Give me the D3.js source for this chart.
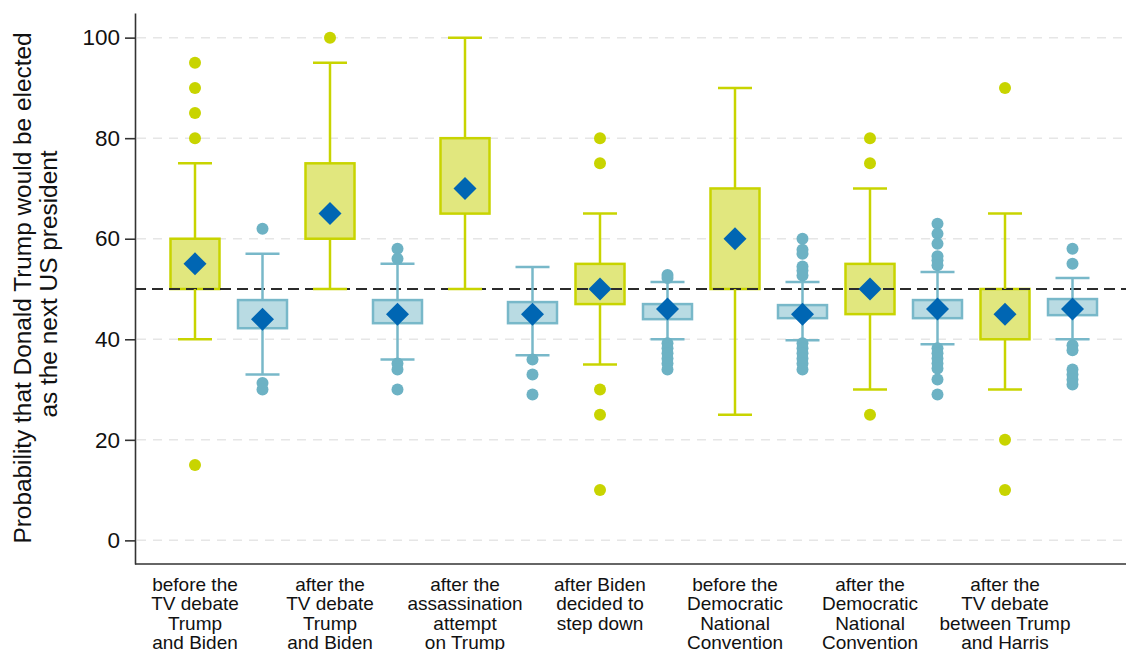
<!DOCTYPE html>
<html><head><meta charset="utf-8">
<script src="https://cdn.jsdelivr.net/npm/d3@7"></script>
<style>
body{margin:0;background:#fff}
svg{display:block;font-family:"Liberation Sans",Arial,Helvetica,sans-serif}
</style>
</head><body>
<svg id="chart" width="1126" height="650"></svg>
<script>
// ---- DATA ----
const categories = [
  "before the\nTV debate\nTrump\nand Biden",
  "after the\nTV debate\nTrump\nand Biden",
  "after the\nassassination\nattempt\non Trump",
  "after Biden\ndecided to\nstep down",
  "before the\nDemocratic\nNational\nConvention",
  "after the\nDemocratic\nNational\nConvention",
  "after the\nTV debate\nbetween Trump\nand Harris"
];
const yTicks = [0, 20, 40, 60, 80, 100];
const referenceValue = 50;

// Series A (green boxes)
const greenQ1   = [50, 60, 65, 47, 50, 45, 40];
const greenQ3   = [60, 75, 80, 55, 70, 55, 50];
const greenLo   = [40, 50, 50, 35, 25, 30, 30];
const greenHi   = [75, 95, 100, 65, 90, 70, 65];
const greenMean = [55, 65, 70, 50, 60, 50, 45];
const greenOut  = [[95, 90, 85, 80, 15], [100], [], [80, 75, 30, 25, 10], [], [80, 75, 25], [90, 20, 10]];

// Series B (blue boxes)
const blueQ1   = [42.2, 43.2, 43.2, 44.0, 44.2, 44.2, 44.8];
const blueQ3   = [47.8, 47.8, 47.4, 47.0, 46.8, 47.8, 48.0];
const blueLo   = [33, 36, 36.8, 40, 39.8, 39, 40];
const blueHi   = [57, 55, 54.4, 51.4, 51.4, 53.4, 52.2];
const blueMean = [44, 45, 45, 46, 45, 46, 46];
const blueOut  = [
  [62, 31.3, 30],
  [58, 56, 35.2, 34, 30],
  [36, 33, 29],
  [52.8, 52.2, 39.2, 38.2, 37.2, 36.2, 35.2, 34],
  [60, 57.8, 57, 54.5, 53.7, 52.7, 39.2, 38.2, 37.2, 36.2, 35.2, 34],
  [63, 61, 59, 56.5, 55.7, 54.7, 38.2, 37.2, 36.2, 35.2, 34.2, 32, 29],
  [58, 55, 38.8, 37.8, 34, 33, 32, 31]
];

// ---- BUILD ----
const boxes = [];
categories.forEach((c, i) => {
  boxes.push({key: i + "-A", s: "A", q1: greenQ1[i], q3: greenQ3[i], lo: greenLo[i], hi: greenHi[i], mean: greenMean[i], out: greenOut[i]});
  boxes.push({key: i + "-B", s: "B", q1: blueQ1[i], q3: blueQ3[i], lo: blueLo[i], hi: blueHi[i], mean: blueMean[i], out: blueOut[i]});
});

const style = {
  A: {stroke: "#c8d400", fill: "#e1e77e", dot: "#c8d400"},
  B: {stroke: "#78b8c9", fill: "#b9dbe3", dot: "#6db2c4"}
};

const svg = d3.select("#chart");
const x = d3.scalePoint().domain(boxes.map(d => d.key)).range([195, 1072.5]);
const y = d3.scaleLinear().domain([-4.7, 104.9]).range([564, 13]);
const left = 135, right = 1126;
const boxW = 49, capW = 34;

// gridlines
svg.append("g").selectAll("line").data(yTicks).join("line")
  .attr("x1", left + 2).attr("x2", right)
  .attr("y1", d => y(d)).attr("y2", d => y(d))
  .attr("stroke", "#e6e6e6").attr("stroke-width", 1.5).attr("stroke-dasharray", "9,7");

// y axis
const yAxis = svg.append("g").attr("transform", `translate(${left},0)`)
  .call(d3.axisLeft(y).tickValues(yTicks).tickSize(10).tickSizeOuter(0).tickPadding(5));
yAxis.select(".domain").attr("stroke", "#333").attr("stroke-width", 1.6);
yAxis.selectAll(".tick line").attr("stroke", "#333").attr("stroke-width", 1.6);
yAxis.selectAll(".tick text").attr("font-size", 22.5).attr("fill", "#111")
  .attr("font-family", "'Liberation Sans',Arial,sans-serif");

// x axis line
svg.append("line").attr("x1", left).attr("x2", right).attr("y1", y(-4.7)).attr("y2", y(-4.7))
  .attr("stroke", "#333").attr("stroke-width", 1.6);

const g = svg.append("g");
// boxes
g.selectAll("rect.box").data(boxes).join("rect").attr("class", "box")
  .attr("x", d => x(d.key) - boxW / 2).attr("width", boxW)
  .attr("y", d => y(d.q3)).attr("height", d => y(d.q1) - y(d.q3))
  .attr("fill", d => style[d.s].fill).attr("stroke", d => style[d.s].stroke).attr("stroke-width", 2.5);

// reference line
svg.append("line").attr("x1", left).attr("x2", right)
  .attr("y1", y(referenceValue)).attr("y2", y(referenceValue))
  .attr("stroke", "#2b2b2b").attr("stroke-width", 2.2).attr("stroke-dasharray", "11,6");

const w = svg.append("g");
// whiskers
w.selectAll("line.wu").data(boxes).join("line").attr("class", "wu")
  .attr("x1", d => x(d.key)).attr("x2", d => x(d.key))
  .attr("y1", d => y(d.q3)).attr("y2", d => y(d.hi))
  .attr("stroke", d => style[d.s].stroke).attr("stroke-width", 2.5);
w.selectAll("line.wl").data(boxes).join("line").attr("class", "wl")
  .attr("x1", d => x(d.key)).attr("x2", d => x(d.key))
  .attr("y1", d => y(d.q1)).attr("y2", d => y(d.lo))
  .attr("stroke", d => style[d.s].stroke).attr("stroke-width", 2.5);
w.selectAll("line.cu").data(boxes).join("line").attr("class", "cu")
  .attr("x1", d => x(d.key) - capW / 2).attr("x2", d => x(d.key) + capW / 2)
  .attr("y1", d => y(d.hi)).attr("y2", d => y(d.hi))
  .attr("stroke", d => style[d.s].stroke).attr("stroke-width", 2.5);
w.selectAll("line.cl").data(boxes).join("line").attr("class", "cl")
  .attr("x1", d => x(d.key) - capW / 2).attr("x2", d => x(d.key) + capW / 2)
  .attr("y1", d => y(d.lo)).attr("y2", d => y(d.lo))
  .attr("stroke", d => style[d.s].stroke).attr("stroke-width", 2.5);

// outliers
const outs = boxes.flatMap(d => d.out.map(v => ({key: d.key, s: d.s, v})));
svg.append("g").selectAll("circle").data(outs).join("circle")
  .attr("cx", d => x(d.key)).attr("cy", d => y(d.v)).attr("r", 6)
  .attr("fill", d => style[d.s].dot);

// means (diamonds)
const dr = 11.5;
svg.append("g").selectAll("path").data(boxes).join("path")
  .attr("transform", d => `translate(${x(d.key)},${y(d.mean)})`)
  .attr("d", `M0,${-dr}L${dr},0L0,${dr}L${-dr},0Z`)
  .attr("fill", "#0066b3");

// category labels
const lab = svg.append("g");
categories.forEach((c, i) => {
  const t = lab.append("text").attr("text-anchor", "middle").attr("font-size", 19).attr("fill", "#111")
    .attr("x", x(i + "-A")).attr("y", 591);
  c.split("\n").forEach((line, j) => {
    t.append("tspan").attr("x", x(i + "-A")).attr("dy", j === 0 ? 0 : 19.3).text(line);
  });
});

// y title
const yt = svg.append("text").attr("text-anchor", "middle").attr("font-size", 24.4).attr("fill", "#111")
  .attr("transform", "translate(31,288) rotate(-90)");
yt.append("tspan").attr("x", 0).attr("y", 0).text("Probability that Donald Trump would be elected");
yt.append("tspan").attr("x", 4).attr("y", 26).text("as the next US president");
</script>
</body></html>
